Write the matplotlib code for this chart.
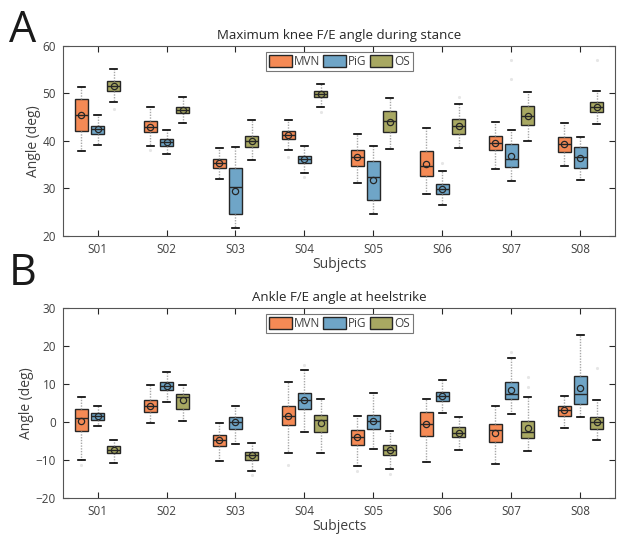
import numpy as np
import matplotlib.pyplot as plt
from matplotlib.patches import Patch

plt.rcParams["font.family"] = ["Open Sans", "DejaVu Sans"]

SUBJECTS = ["S01", "S02", "S03", "S04", "S05", "S06", "S07", "S08"]
METHODS = ["MVN", "PiG", "OS"]
COLORS = ["#F58A55", "#6FA5C7", "#A8A862"]

# rows: subject; cols: whislo, q1, med, q3, whishi, mean
KNEE_MVN = [
    [37.9, 42.1, 45.5, 48.8, 51.4, 45.5],
    [39.0, 41.8, 43.0, 44.2, 47.2, 43.0],
    [32.1, 34.4, 35.3, 36.2, 38.6, 35.3],
    [38.0, 40.4, 41.2, 42.1, 44.4, 41.2],
    [31.2, 34.7, 36.6, 38.2, 41.5, 36.6],
    [28.8, 32.6, 34.7, 37.9, 42.7, 35.2],
    [34.0, 38.1, 39.6, 41.1, 44.1, 39.6],
    [34.7, 37.6, 39.4, 40.8, 43.7, 39.4],
]
KNEE_PIG = [
    [39.2, 41.5, 42.5, 43.2, 45.5, 42.5],
    [37.2, 38.9, 39.7, 40.4, 42.3, 39.7],
    [21.7, 24.7, 30.4, 34.4, 38.8, 29.5],
    [33.2, 35.4, 36.2, 36.9, 39.0, 36.2],
    [24.6, 27.6, 32.5, 35.8, 39.0, 31.8],
    [26.5, 28.8, 29.9, 30.9, 33.7, 29.9],
    [31.5, 34.6, 36.2, 39.3, 42.3, 36.8],
    [31.8, 34.3, 36.7, 38.7, 40.9, 36.4],
]
KNEE_OS = [
    [48.3, 50.5, 51.6, 52.6, 55.2, 51.6],
    [43.8, 45.8, 46.5, 47.2, 49.3, 46.5],
    [36.0, 38.7, 39.9, 41.1, 44.4, 39.9],
    [47.2, 49.2, 49.9, 50.5, 52.1, 49.9],
    [38.3, 41.8, 44.2, 46.3, 49.1, 44.1],
    [38.5, 41.5, 43.2, 44.6, 47.8, 43.2],
    [40.1, 43.4, 45.3, 47.4, 50.3, 45.3],
    [43.5, 46.1, 47.2, 48.3, 50.6, 47.2],
]
# faint outliers: (subject index, method index, value)
KNEE_FLIERS = [(0, 2, 46.7), (1, 0, 38.2), (3, 0, 36.6), (3, 1, 32.5),
               (3, 2, 46.0), (5, 1, 35.3), (5, 2, 49.2), (6, 1, 53.1),
               (6, 1, 57.1), (7, 2, 57.1)]

ANKLE_MVN = [
    [-10.0, -2.5, 1.0, 3.4, 6.5, 0.3],
    [-0.3, 2.5, 4.2, 5.7, 9.8, 4.2],
    [-10.3, -6.4, -4.7, -3.3, -0.3, -4.7],
    [-8.1, -0.8, 1.7, 4.1, 10.6, 1.6],
    [-11.5, -6.1, -4.0, -2.2, 1.7, -4.0],
    [-10.6, -3.8, -0.5, 2.5, 6.1, -0.6],
    [-11.1, -5.3, -2.2, -0.5, 4.3, -2.9],
    [-1.6, 1.7, 3.1, 4.3, 6.9, 3.1],
]
ANKLE_PIG = [
    [-1.0, 0.6, 1.5, 2.4, 4.1, 1.5],
    [5.3, 8.3, 9.4, 10.6, 13.2, 9.4],
    [-5.8, -1.8, -0.1, 1.2, 4.3, -0.1],
    [-2.6, 3.5, 5.9, 7.5, 13.6, 5.7],
    [-7.1, -1.8, 0.3, 1.9, 7.5, 0.3],
    [2.4, 5.5, 6.9, 8.0, 11.1, 6.9],
    [2.2, 6.1, 7.4, 10.5, 16.9, 8.3],
    [1.2, 4.7, 7.4, 12.2, 22.9, 9.0],
]
ANKLE_OS = [
    [-10.8, -8.2, -7.3, -6.3, -4.7, -7.3],
    [0.2, 3.4, 6.6, 7.4, 9.7, 5.7],
    [-12.8, -9.9, -8.8, -7.9, -5.4, -8.8],
    [-8.2, -2.6, 0.4, 1.9, 6.1, -0.3],
    [-12.4, -8.7, -7.5, -6.1, -2.5, -7.5],
    [-7.5, -4.0, -2.9, -1.4, 1.2, -2.9],
    [-7.7, -4.2, -2.7, 0.2, 6.6, -1.6],
    [-4.8, -1.8, -0.1, 1.3, 5.9, -0.1],
]
ANKLE_FLIERS = [(0, 0, -11.3), (2, 2, -13.9), (3, 0, -11.3), (3, 1, 14.9),
                (4, 0, -12.8), (4, 2, -13.6), (6, 1, 18.5), (6, 2, 9.2),
                (6, 2, 11.9), (7, 2, 14.2)]

OFFSETS = [-0.235, 0.0, 0.235]
BOX_W = 0.19
EDGE = "#262626"
TEXT = "#404040"


def draw_panel(ax, series, fliers, title, ylim):
    for m, rows in enumerate(series):
        stats = [dict(whislo=r[0], q1=r[1], med=r[2], q3=r[3], whishi=r[4],
                      mean=r[5], fliers=[]) for r in rows]
        pos = np.arange(1, len(rows) + 1) + OFFSETS[m]
        ax.bxp(stats, positions=pos, widths=BOX_W, patch_artist=True,
               showmeans=True, showfliers=False,
               boxprops=dict(facecolor=COLORS[m], edgecolor=EDGE, lw=1.0),
               medianprops=dict(color=EDGE, lw=1.0),
               whiskerprops=dict(color="#A8A8A8", lw=1.0, ls=(0, (1, 1))),
               capprops=dict(color="black", lw=1.2),
               capwidths=0.1,
               meanprops=dict(marker="o", markerfacecolor="none",
                              markeredgecolor=EDGE, markersize=4.5,
                              markeredgewidth=0.9))
    for s, m, v in fliers:
        ax.plot(s + 1 + OFFSETS[m], v, ".", color="#E6E6E6", ms=2.5)

    ax.set_xlim(0.5, len(SUBJECTS) + 0.5)
    ax.set_ylim(*ylim)
    ax.set_yticks(np.arange(ylim[0], ylim[1] + 1, 10))
    ax.set_xticks(np.arange(1, len(SUBJECTS) + 1))
    ax.set_xticklabels(SUBJECTS)
    ax.tick_params(direction="in", top=True, right=True, length=4,
                   color=EDGE, labelcolor=TEXT, labelsize=8.5, pad=5)
    for sp in ax.spines.values():
        sp.set_color("#555555")
    ax.set_title(title, fontsize=9.5, color="#262626", pad=5)
    ax.set_xlabel("Subjects", fontsize=10, color=TEXT, labelpad=1)
    ax.set_ylabel("Angle (deg)", fontsize=10, color=TEXT, labelpad=1)

    handles = [Patch(facecolor=c, edgecolor=EDGE, lw=1.0) for c in COLORS]
    leg = ax.legend(handles, METHODS, loc="upper center",
                    bbox_to_anchor=(0.501, 0.968), borderaxespad=0,
                    ncol=3, fontsize=8.5,
                    handlelength=1.9, handleheight=1.1, handletextpad=0.15,
                    columnspacing=0.3, borderpad=0.25, fancybox=False,
                    framealpha=1, edgecolor="#777777")
    leg.get_frame().set_linewidth(0.8)
    for t in leg.get_texts():
        t.set_color(TEXT)


fig = plt.figure(figsize=(6.18, 5.36), dpi=100)
ax_a = fig.add_axes([0.102, 0.5597, 0.893, 0.3545])
ax_b = fig.add_axes([0.102, 0.0709, 0.893, 0.3545])

draw_panel(ax_a, [KNEE_MVN, KNEE_PIG, KNEE_OS], KNEE_FLIERS,
           "Maximum knee F/E angle during stance", (20, 60))
draw_panel(ax_b, [ANKLE_MVN, ANKLE_PIG, ANKLE_OS], ANKLE_FLIERS,
           "Ankle F/E angle at heelstrike", (-20, 30))

fig.text(0.014, 0.985, "A", fontsize=31, va="top", color="#1a1a1a")
fig.text(0.014, 0.53, "B", fontsize=31, va="top", color="#1a1a1a")

fig.savefig("out.png", dpi=100)
